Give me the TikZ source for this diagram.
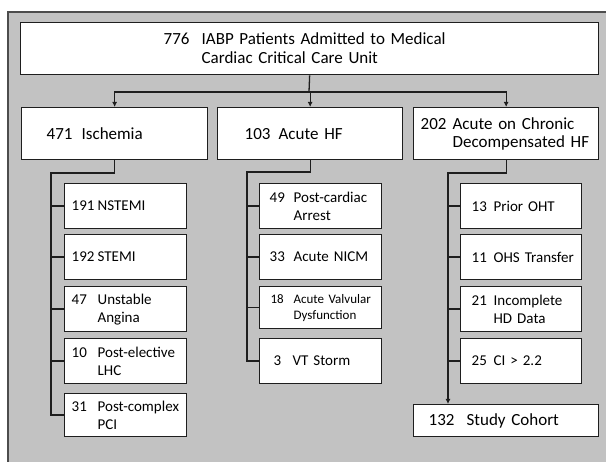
\documentclass[tikz,border=0pt]{standalone}
\usepackage{fontspec}
\setmainfont{Carlito}
\usetikzlibrary{arrows.meta}
\definecolor{bgray}{RGB}{194,194,194}
\definecolor{lineC}{RGB}{30,30,30}
\newcommand\rowtxt[3]{\mbox{\makebox[#1][l]{#2}#3}}
\tikzset{
  box/.style={draw=lineC, line width=1.3pt, fill=white, anchor=north west,
    align=left, inner ysep=0pt},
  big/.style={box, font=\fontsize{17}{19}\selectfont},
  sub/.style={box, font=\fontsize{15}{18}\selectfont},
  conn/.style={draw=lineC, line width=1.3pt},
  arr/.style={conn, -{Latex[length=5pt,width=5pt]}},
}
\begin{document}
\begin{tikzpicture}[x=1pt,y=-1pt]
\useasboundingbox (0,0) rectangle (606,462);
\fill[bgray] (8,12) rectangle (606,462);
\draw[draw=black!70, line width=1.3pt] (8,462) -- (8,12) -- (606,12);

% top
\node[big, minimum width=578pt, minimum height=52pt, inner xsep=143pt, text width=292pt]
  (top) at (20,22) {\rowtxt{38pt}{776}{IABP Patients Admitted to Medical}\\\rowtxt{38pt}{}{Cardiac Critical Care Unit}};

% level 2
\node[big, minimum width=186pt, minimum height=52pt, inner xsep=25pt, text width=136pt]
  (isch) at (21,107) {\rowtxt{35pt}{471}{Ischemia}};
\node[big, minimum width=185pt, minimum height=52pt, inner xsep=27pt, text width=131pt]
  (ahf) at (217,107) {\rowtxt{34pt}{103}{Acute HF}};
\node[big, minimum width=185pt, minimum height=52pt, inner xsep=7pt, text width=171pt,
  font=\fontsize{17}{18}\selectfont]
  (acd) at (413,107) {\rowtxt{32pt}{202}{Acute on Chronic}\\\rowtxt{32pt}{}{Decompensated HF}};

% left column
\node[sub, minimum width=122pt, minimum height=45pt, inner xsep=7pt, text width=108pt]
  (l1) at (64,183) {\rowtxt{26pt}{191}{NSTEMI}};
\node[sub, minimum width=122pt, minimum height=45pt, inner xsep=7pt, text width=108pt]
  (l2) at (64,234) {\rowtxt{26pt}{192}{STEMI}};
\node[sub, minimum width=122pt, minimum height=45pt, inner xsep=7pt, text width=108pt]
  (l3) at (64,286) {\rowtxt{26pt}{47}{Unstable}\\\rowtxt{26pt}{}{Angina}};
\node[sub, minimum width=122pt, minimum height=45pt, inner xsep=7pt, text width=108pt]
  (l4) at (64,338) {\rowtxt{26pt}{10}{Post-elective}\\\rowtxt{26pt}{}{LHC}};
\node[sub, minimum width=122pt, minimum height=43pt, inner xsep=7pt, text width=108pt]
  (l5) at (64,393) {\rowtxt{26pt}{31}{Post-complex}\\\rowtxt{26pt}{}{PCI}};

% middle column
\node[sub, minimum width=122pt, minimum height=45pt, inner xsep=10pt, text width=102pt]
  (m1) at (259,183) {\rowtxt{24pt}{49}{Post-cardiac}\\\rowtxt{24pt}{}{Arrest}};
\node[sub, minimum width=122pt, minimum height=45pt, inner xsep=10pt, text width=102pt]
  (m2) at (259,234) {\rowtxt{24pt}{33}{Acute NICM}};
\node[sub, minimum width=122pt, minimum height=42pt, inner xsep=11pt, text width=100pt,
  font=\fontsize{13}{16}\selectfont]
  (m3) at (259,286) {\rowtxt{23pt}{18}{Acute Valvular}\\\rowtxt{23pt}{}{Dysfunction}};
\node[sub, minimum width=122pt, minimum height=45pt, inner xsep=14pt, text width=94pt]
  (m4) at (259,338) {\rowtxt{19pt}{3}{VT Storm}};

% right column
\node[sub, minimum width=121pt, minimum height=45pt, inner xsep=11pt, text width=99pt]
  (r1) at (460,183) {\rowtxt{22pt}{13}{Prior OHT}};
\node[sub, minimum width=121pt, minimum height=45pt, inner xsep=11pt, text width=99pt]
  (r2) at (460,234) {\rowtxt{22pt}{11}{OHS Transfer}};
\node[sub, minimum width=121pt, minimum height=45pt, inner xsep=11pt, text width=99pt]
  (r3) at (460,286) {\rowtxt{22pt}{21}{Incomplete}\\\rowtxt{22pt}{}{HD Data}};
\node[sub, minimum width=121pt, minimum height=45pt, inner xsep=11pt, text width=99pt]
  (r4) at (460,338) {\rowtxt{22pt}{25}{CI > 2.2}};

\node[big, minimum width=185pt, minimum height=32pt, inner xsep=15pt, text width=155pt]
  (coh) at (413,404) {\rowtxt{38pt}{132}{Study Cohort}};

% connectors
\coordinate (bus) at (309,92);
\draw[conn] (top.south) -- (bus);
\draw[arr] (bus) -| (isch.north);
\draw[arr] (bus) -| (acd.north);
\draw[arr] (bus) -- (bus -| ahf.north) -- (ahf.north);

\coordinate (ltop) at (51,173);
\draw[conn] (isch.south) |- (ltop) |- (l5.west);
\foreach \n in {l1,l2,l3,l4} \draw[conn] (\n.west) -- (\n.west -| ltop);

\coordinate (mtop) at (247,172);
\draw[conn] (ahf.south) |- (mtop) |- (m4.west);
\foreach \n in {m1,m2,m3} \draw[conn] (\n.west) -- (\n.west -| mtop);

\coordinate (rtop) at (448,173);
\draw[arr] (acd.south) |- (rtop) -- (rtop |- coh.north);
\foreach \n in {r1,r2,r3,r4} \draw[conn] (\n.west) -- (\n.west -| rtop);
\end{tikzpicture}
\end{document}
